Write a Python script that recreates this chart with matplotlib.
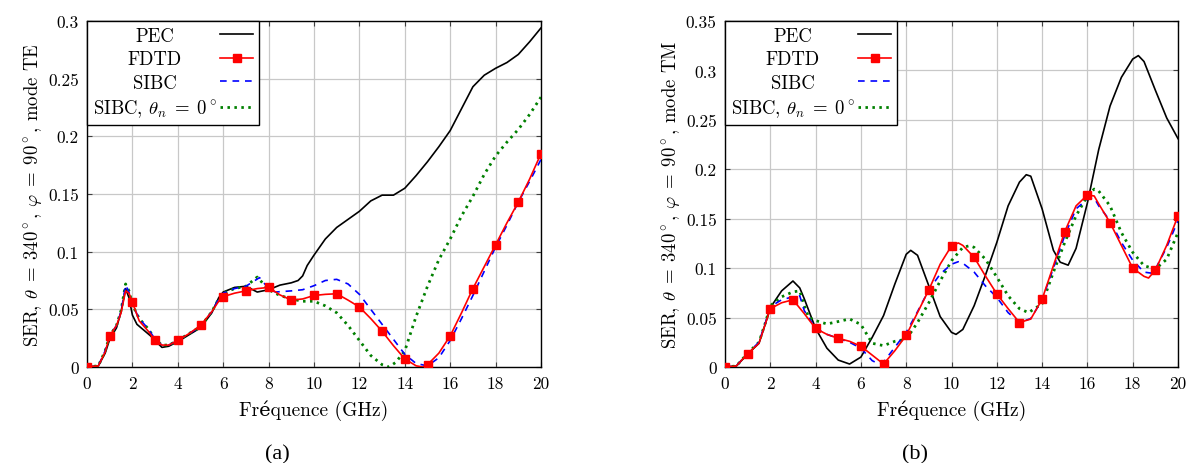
import matplotlib
matplotlib.use("Agg")
import matplotlib.pyplot as plt
from matplotlib.ticker import FuncFormatter, MultipleLocator

plt.rcParams['font.family'] = ['cmr10', 'DejaVu Serif']
plt.rcParams['mathtext.fontset'] = 'cm'
plt.rcParams['axes.formatter.use_mathtext'] = True

# ---------------- panel (a): mode TE ----------------
a_pec_f = [0, 0.5, 0.8, 1, 1.3, 1.5, 1.7, 1.85, 2, 2.2, 2.5, 2.8, 3, 3.3, 3.6, 4, 4.5, 5, 5.5, 5.8, 6,
           6.5, 7, 7.5, 8, 8.5, 9, 9.3, 9.5, 9.7, 10, 10.5, 11, 11.5, 12, 12.5, 13, 13.5, 14, 14.5, 15,
           15.5, 16, 16.5, 17, 17.5, 18, 18.5, 19, 19.5, 20]
a_pec = [0, 0.001, 0.012, 0.024, 0.034, 0.048, 0.068, 0.060, 0.045, 0.037, 0.032, 0.027, 0.023, 0.017,
         0.018, 0.022, 0.028, 0.034, 0.047, 0.060, 0.065, 0.069, 0.070, 0.065, 0.067, 0.071, 0.073, 0.075,
         0.079, 0.088, 0.097, 0.111, 0.121, 0.128, 0.135, 0.144, 0.149, 0.149, 0.155, 0.166, 0.178, 0.191,
         0.205, 0.224, 0.243, 0.253, 0.259, 0.264, 0.271, 0.282, 0.294]

a_fdtd_f = [0, 0.5, 0.8, 1, 1.3, 1.5, 1.7, 1.85, 2, 2.3, 2.7, 3, 3.3, 3.6, 4, 4.5, 5, 5.5, 5.8, 6, 6.5,
            7, 7.5, 8, 8.5, 9, 9.5, 10, 10.5, 11, 11.5, 12, 12.5, 13, 13.5, 14, 14.5, 14.8, 15, 15.5, 16,
            16.5, 17, 17.5, 18, 18.5, 19, 19.5, 20]
a_fdtd = [0, 0.001, 0.013, 0.027, 0.036, 0.047, 0.066, 0.064, 0.056, 0.040, 0.031, 0.023, 0.019, 0.019,
          0.023, 0.029, 0.036, 0.048, 0.057, 0.061, 0.064, 0.066, 0.068, 0.069, 0.0625, 0.058, 0.059, 0.062,
          0.063, 0.0635, 0.058, 0.052, 0.042, 0.031, 0.0185, 0.007, 0.001, 0.0, 0.002, 0.012, 0.027, 0.047,
          0.068, 0.087, 0.106, 0.125, 0.143, 0.163, 0.185]

a_sibc_f = [0, 0.5, 0.8, 1, 1.3, 1.5, 1.7, 1.85, 2, 2.3, 2.7, 3, 3.3, 3.6, 4, 4.5, 5, 5.5, 5.8, 6, 6.5,
            7, 7.6, 8, 8.3, 9, 9.5, 10, 10.5, 11, 11.5, 12, 12.5, 13, 13.5, 14, 14.5, 15, 15.5, 16, 16.5,
            17, 17.5, 18, 18.5, 19, 19.5, 20]
a_sibc = [0, 0.001, 0.014, 0.027, 0.036, 0.048, 0.071, 0.065, 0.054, 0.042, 0.033, 0.024, 0.019, 0.019,
          0.023, 0.029, 0.035, 0.048, 0.059, 0.064, 0.068, 0.070, 0.0775, 0.068, 0.065, 0.066, 0.067,
          0.0705, 0.075, 0.076, 0.072, 0.063, 0.050, 0.037, 0.024, 0.011, 0.003, 0.001, 0.008, 0.023,
          0.042, 0.062, 0.083, 0.104, 0.123, 0.143, 0.161, 0.180]

a_sibc0_f = [0, 0.5, 0.8, 1, 1.3, 1.5, 1.7, 1.85, 2, 2.3, 2.7, 3, 3.3, 3.6, 4, 4.5, 5, 5.5, 5.8, 6, 6.5,
             7, 7.5, 8, 8.5, 9, 9.5, 10, 10.5, 11, 11.5, 12, 12.5, 13, 13.3, 13.6, 14, 14.5, 15, 15.5, 16,
             16.5, 17, 17.5, 18, 18.5, 19, 19.5, 20]
a_sibc0 = [0, 0.001, 0.014, 0.027, 0.036, 0.049, 0.072, 0.066, 0.054, 0.042, 0.033, 0.024, 0.019, 0.019,
           0.023, 0.029, 0.035, 0.048, 0.059, 0.064, 0.068, 0.070, 0.078, 0.067, 0.062, 0.059, 0.057,
           0.057, 0.053, 0.047, 0.036, 0.023, 0.010, 0.002, 0.0, 0.004, 0.014, 0.044, 0.070, 0.093, 0.111,
           0.131, 0.148, 0.167, 0.183, 0.195, 0.206, 0.219, 0.234]

# ---------------- panel (b): mode TM ----------------
b_pec_f = [0, 0.5, 1, 1.5, 1.8, 2, 2.5, 3, 3.3, 3.5, 4, 4.5, 5, 5.5, 6, 6.5, 7, 7.5, 8, 8.2, 8.5, 9, 9.5,
           10, 10.2, 10.5, 11, 11.5, 12, 12.5, 13, 13.3, 13.5, 14, 14.5, 14.8, 15.15, 15.5, 16, 16.5, 17,
           17.5, 18, 18.25, 18.5, 19, 19.5, 20]
b_pec = [0, 0.001, 0.013, 0.024, 0.045, 0.060, 0.077, 0.087, 0.080, 0.069, 0.039, 0.019, 0.007, 0.003,
         0.010, 0.030, 0.052, 0.084, 0.114, 0.118, 0.113, 0.082, 0.051, 0.035, 0.033, 0.038, 0.062, 0.093,
         0.126, 0.163, 0.187, 0.1945, 0.193, 0.160, 0.118, 0.106, 0.103, 0.120, 0.166, 0.220, 0.264, 0.293,
         0.3115, 0.315, 0.309, 0.280, 0.252, 0.231]

b_fdtd_f = [0, 0.5, 1, 1.5, 1.8, 2, 2.5, 3, 3.5, 4, 4.5, 5, 5.5, 6, 6.5, 7, 7.5, 8, 8.5, 9, 9.5, 10, 10.3,
            10.5, 11, 11.5, 12, 12.5, 13, 13.5, 14, 14.5, 15, 15.5, 16, 16.3, 16.5, 17, 17.5, 18, 18.5,
            18.7, 19, 19.5, 20]
b_fdtd = [0, 0.001, 0.0135, 0.024, 0.045, 0.059, 0.065, 0.068, 0.054, 0.039, 0.033, 0.029, 0.026, 0.021,
          0.012, 0.003, 0.0165, 0.032, 0.055, 0.078, 0.104, 0.1225, 0.1255, 0.123, 0.111, 0.092, 0.074,
          0.059, 0.045, 0.0485, 0.0685, 0.1025, 0.137, 0.163, 0.174, 0.173, 0.165, 0.146, 0.123, 0.100,
          0.0917, 0.090, 0.098, 0.123, 0.153]

b_sibc_f = [0, 0.5, 1, 1.5, 1.8, 2, 2.5, 3, 3.3, 3.5, 4, 4.5, 5, 5.5, 6, 6.5, 6.8, 7, 7.5, 8, 8.5, 9, 9.5,
            10, 10.3, 10.5, 11, 11.5, 12, 12.5, 13, 13.5, 14, 14.5, 15, 15.5, 16, 16.3, 16.5, 17, 17.5, 18,
            18.5, 18.8, 19, 19.5, 20]
b_sibc = [0, 0.001, 0.014, 0.025, 0.046, 0.061, 0.068, 0.071, 0.072, 0.057, 0.039, 0.033, 0.029, 0.025,
          0.019, 0.0064, 0.003, 0.005, 0.020, 0.035, 0.056, 0.078, 0.094, 0.104, 0.1065, 0.105, 0.096,
          0.082, 0.0705, 0.055, 0.045, 0.049, 0.068, 0.100, 0.133, 0.160, 0.170, 0.171, 0.163, 0.148,
          0.126, 0.108, 0.096, 0.095, 0.099, 0.121, 0.148]

b_sibc0_f = [0, 0.5, 1, 1.5, 1.8, 2, 2.5, 3, 3.3, 3.5, 3.7, 4, 4.5, 5, 5.5, 6, 6.5, 7, 7.5, 8, 8.5, 9, 9.5,
             10, 10.5, 10.8, 11, 11.5, 12, 12.5, 13, 13.4, 14, 14.5, 15, 15.5, 16, 16.3, 16.5, 17, 17.5,
             18, 18.5, 19, 19.5, 20]
b_sibc0 = [0, 0.001, 0.014, 0.025, 0.046, 0.062, 0.071, 0.076, 0.077, 0.062, 0.050, 0.047, 0.0435, 0.046,
           0.0486, 0.043, 0.024, 0.0216, 0.026, 0.028, 0.045, 0.065, 0.087, 0.1075, 0.121, 0.1227, 0.121,
           0.109, 0.091, 0.072, 0.059, 0.055, 0.064, 0.096, 0.126, 0.153, 0.173, 0.180, 0.178, 0.163, 0.136,
           0.116, 0.1025, 0.099, 0.109, 0.136]

series_labels = ["PEC", "FDTD", "SIBC", r"SIBC, $\theta_n\;=\;0^\circ$"]
xlabel = "Fréquence (GHz)"
ylabels = [r"SER, $\theta\;=\;340^\circ$, $\varphi\;=\;90^\circ$, mode TE",
           r"SER, $\theta\;=\;340^\circ$, $\varphi\;=\;90^\circ$, mode TM"]
ylims = [0.3, 0.35]
panel_tags = ["(a)", "(b)"]

W, H = 1188, 464
DPI = 100
fig = plt.figure(figsize=(W / DPI, H / DPI), dpi=DPI)

axes_px = [(87, 541), (725, 1178)]
tag_px = [277, 915]
top_px, bot_px = 22, 368


def fmt(v, _):
    return f"{v:g}"


panels = [
    (a_pec_f, a_pec, a_fdtd_f, a_fdtd, a_sibc_f, a_sibc, a_sibc0_f, a_sibc0),
    (b_pec_f, b_pec, b_fdtd_f, b_fdtd, b_sibc_f, b_sibc, b_sibc0_f, b_sibc0),
]

legends = []
for i, data in enumerate(panels):
    pf, p, ff, fd, sf, s, s0f, s0 = data
    l, r = axes_px[i]
    ax = fig.add_axes([l / W, (H - bot_px) / H, (r - l) / W, (bot_px - top_px) / H])
    h1, = ax.plot(pf, p, color="black", lw=1.2, label=series_labels[0], zorder=3)
    marks = [k for k, v in enumerate(ff) if float(v).is_integer()]
    h2, = ax.plot(ff, fd, color="#ff0000", lw=1.2, marker="s", markersize=5.5,
                  markevery=marks, label=series_labels[1], zorder=5)
    h3, = ax.plot(sf, s, color="#0000ff", lw=1.2, ls=(0, (4, 3.5)), label=series_labels[2], zorder=4)
    h4, = ax.plot(s0f, s0, color="#008000", lw=2.0, ls=(0, (0.9, 1.6)), label=series_labels[3], zorder=3)

    ax.set_xlim(0, 20)
    ax.set_ylim(0, ylims[i])
    ax.xaxis.set_major_locator(MultipleLocator(2))
    ax.yaxis.set_major_locator(MultipleLocator(0.05))
    ax.xaxis.set_major_formatter(FuncFormatter(fmt))
    ax.yaxis.set_major_formatter(FuncFormatter(fmt))
    ax.grid(True, color="#c8c8c8", lw=0.9)
    ax.set_axisbelow(True)
    ax.tick_params(direction="in", length=3.5, width=0.8, color="#404040",
                   top=True, right=True, labelsize=12.5, pad=6)
    for sp in ax.spines.values():
        sp.set_linewidth(1.0)
    ax.set_xlabel(xlabel, fontsize=14, labelpad=6)
    ax.set_ylabel(ylabels[i], fontsize=13.5, labelpad=3)

    leg = ax.legend(handles=[h1, h2, h3, h4], loc="upper left", borderaxespad=0,
                    markerfirst=False, fontsize=13.5, frameon=True, fancybox=False,
                    edgecolor="black", framealpha=1, handlelength=1.75, handletextpad=0.2,
                    labelspacing=0.3, borderpad=0.3)
    leg.get_frame().set_linewidth(1.0)
    leg.set_zorder(10)
    legends.append(leg)

    fig.text(tag_px[i] / W, 9 / H, panel_tags[i],
             fontsize=16, family="Liberation Serif", ha="center", va="center")

# centre the legend labels within their column (pgfplots style)
try:
    fig.canvas.draw()
    renderer = fig.canvas.get_renderer()
    for leg in legends:
        texts = leg.get_texts()
        widths = [t.get_window_extent(renderer).width for t in texts]
        maxw = max(widths)
        columns = leg._legend_handle_box.get_children()
        items = [it for col in columns for it in col.get_children()]
        for it, w in zip(items, widths):
            it.sep = it.sep + (maxw - w) / 2 * 72.0 / DPI
except Exception:
    pass

fig.savefig("out.png", dpi=DPI)
